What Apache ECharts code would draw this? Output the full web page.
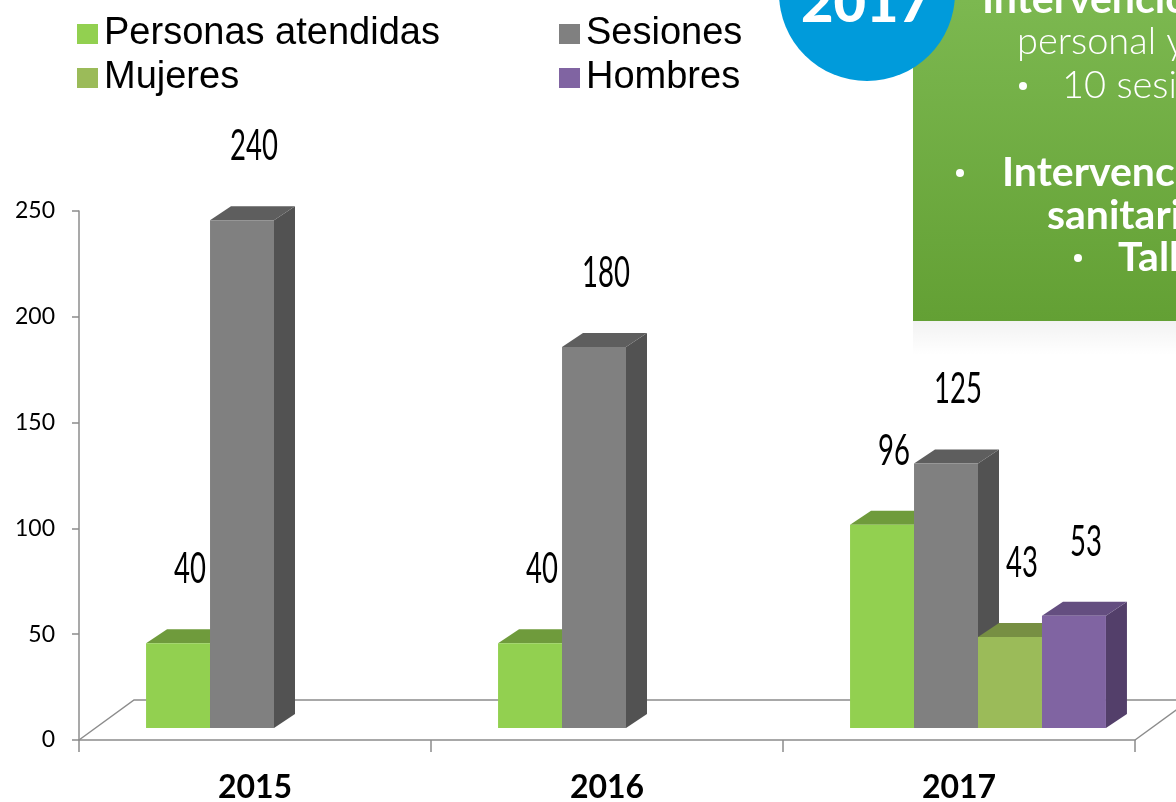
<!DOCTYPE html>
<html><head><meta charset="utf-8">
<script src="https://cdn.jsdelivr.net/npm/echarts@6/dist/echarts.min.js"></script>
<style>html,body{margin:0;padding:0;background:#fff}#c{width:1176px;height:802px}</style>
</head><body><div id="c"></div>
<script>
// ---- data ----
const years = ['2015', '2016', '2017'];
const seriesNames = ['Personas atendidas', 'Sesiones', 'Mujeres', 'Hombres'];
const personas = [40, 40, 96];
const sesiones = [240, 180, 125];
const mujeres = [null, null, 43];
const hombres = [null, null, 53];
const yTicks = [0, 50, 100, 150, 200, 250];

// ---- style ----
const palette = [
  { front: '#92d050', top: '#6f9b3c', side: '#5e8a2f' },
  { front: '#808080', top: '#5e5e5e', side: '#525252' },
  { front: '#9bbb59', top: '#778f43', side: '#66803a' },
  { front: '#8064a2', top: '#644e80', side: '#533f6a' }
];
const DX = 21, DY = -14;          // bar depth
const SHIFT_X = 19, SHIFT_Y = -12; // bar placement inside the floor
const FLOOR_DX = 55, FLOOR_DY = -40;
const AXIS_COLOR = '#8c8c8c';

const chart = echarts.init(document.getElementById('c'), null, { renderer: 'canvas' });

function barRender(si) {
  return function (params, api) {
    const v = api.value(1);
    if (v == null || isNaN(v)) return;
    const base = api.coord([api.value(0), 0]);
    const topP = api.coord([api.value(0), v]);
    const catW = api.size([1, 0])[0];
    const bw = catW * 0.727 / 4;
    const x0 = base[0] - 2 * bw + si * bw + SHIFT_X;
    const x1 = x0 + bw;
    const yb = base[1] + SHIFT_Y;
    const yt = topP[1] + SHIFT_Y;
    const c = palette[si];
    return {
      type: 'group',
      children: [
        { type: 'polygon', shape: { points: [[x1, yt], [x1 + DX, yt + DY], [x1 + DX, yb + DY], [x1, yb]] }, style: { fill: c.side } },
        { type: 'polygon', shape: { points: [[x0, yt], [x1, yt], [x1 + DX, yt + DY], [x0 + DX, yt + DY]] }, style: { fill: c.top } },
        { type: 'rect', shape: { x: x0, y: yt, width: bw, height: yb - yt }, style: { fill: c.front } },
        { type: 'text', z2: 50, x: (x0 + x1) / 2 + 12, y: yt - 74, scaleX: 0.64,
          style: { x: 0, y: 0, text: String(v), align: 'center', verticalAlign: 'middle',
            font: '400 43px Lato, sans-serif', fill: '#000' } }
      ]
    };
  };
}

function floorRender(params, api) {
  const cs = params.coordSys;
  const xl = cs.x, xr = cs.x + cs.width, yf = cs.y + cs.height;
  const st = { stroke: AXIS_COLOR, lineWidth: 1.5, fill: null };
  return {
    type: 'group',
    children: [
      { type: 'polyline', shape: { points: [[xl, yf], [xl + FLOOR_DX, yf + FLOOR_DY], [xr + FLOOR_DX, yf + FLOOR_DY]] }, style: st },
      { type: 'line', shape: { x1: xr, y1: yf, x2: xr + FLOOR_DX, y2: yf + FLOOR_DY }, style: st }
    ]
  };
}

const arrays = [personas, sesiones, mujeres, hombres];
const series = [{
  type: 'custom', name: '_floor', renderItem: floorRender, silent: true, z: 1,
  data: [[years[0], 0]], encode: { x: 0, y: 1 }
}];
arrays.forEach((arr, si) => {
  series.push({
    type: 'custom', name: seriesNames[si], z: 2,
    renderItem: barRender(si),
    itemStyle: { color: palette[si].front },
    encode: { x: 0, y: 1 },
    data: years.map((y, i) => [y, arr[i] == null ? '-' : arr[i]])
  });
});

const legendCommon = {
  orient: 'vertical', icon: 'rect', itemWidth: 21, itemHeight: 20, itemGap: 6,
  textStyle: { fontSize: 38, fontFamily: '"Liberation Sans", Arial, sans-serif', color: '#000', padding: [0, 0, 0, 1] },
  selectedMode: false
};

const graphicEls = [
  { type: 'rect', left: 913, top: 321, z: 100, shape: { width: 263, height: 34 },
    style: { fill: { type: 'linear', x: 0, y: 0, x2: 0, y2: 1, colorStops: [{ offset: 0, color: 'rgba(0,0,0,0.05)' }, { offset: 1, color: 'rgba(0,0,0,0)' }] } } },
  { type: 'rect', left: 913, top: 0, z: 100, shape: { width: 263, height: 321 },
    style: { fill: { type: 'linear', x: 0, y: 0, x2: 0, y2: 1, colorStops: [{ offset: 0, color: '#7cb850' }, { offset: 1, color: '#63a034' }] } } },
  { type: 'circle', z: 101, shape: { cx: 867, cy: -7, r: 88 }, style: { fill: '#009bdb' } },
  { type: 'text', z: 102, style: { x: 866, y: 4, text: '2017', align: 'center', verticalAlign: 'middle', font: '900 56px Lato, sans-serif', fill: '#fff' } }
];
const boxLines = [
  { x: 982, base: 12, text: 'Intervención', w: 'bold', fs: 41 },
  { x: 1017, base: 54, text: 'personal y', w: '300', fs: 38 },
  { x: 1062, base: 98, text: '10 sesiones', w: '300', fs: 38, bullet: 1023 },
  { x: 1002, base: 185, text: 'Intervención', w: 'bold', fs: 41, bullet: 960 },
  { x: 1047, base: 228, text: 'sanitario', w: 'bold', fs: 41 },
  { x: 1118, base: 270, text: 'Talleres', w: 'bold', fs: 41, bullet: 1078 }
];
boxLines.forEach(l => {
  graphicEls.push({ type: 'text', z: 102, style: { x: l.x, y: l.base - 12, text: l.text, align: 'left', verticalAlign: 'middle',
    font: l.w + ' ' + l.fs + 'px Lato, sans-serif', fill: '#fff' } });
  if (l.bullet) graphicEls.push({ type: 'circle', z: 102, shape: { cx: l.bullet, cy: l.base - 12, r: 4 }, style: { fill: '#fff' } });
});

chart.setOption({
  animation: false,
  backgroundColor: '#fff',
  grid: { left: 79, right: 41, top: 211, bottom: 62, containLabel: false, outerBoundsMode: 'none' },
  legend: [
    Object.assign({ left: 72, top: 10, data: [seriesNames[0], seriesNames[2]] }, legendCommon),
    Object.assign({ left: 554, top: 10, data: [seriesNames[1], seriesNames[3]] }, legendCommon)
  ],
  xAxis: {
    type: 'category', data: years, boundaryGap: true,
    axisLine: { lineStyle: { color: AXIS_COLOR, width: 1.5 } },
    axisTick: { show: true, length: 12, lineStyle: { color: AXIS_COLOR, width: 1.5 } },
    axisLabel: { fontFamily: 'Lato, sans-serif', fontWeight: 'bold', fontSize: 32, color: '#000', margin: 32 },
    splitLine: { show: false }
  },
  yAxis: {
    type: 'value', min: yTicks[0], max: yTicks[yTicks.length - 1], interval: yTicks[1] - yTicks[0],
    axisLine: { show: true, lineStyle: { color: AXIS_COLOR, width: 1.5 } },
    axisTick: { show: true, length: 7, lineStyle: { color: AXIS_COLOR, width: 1.5 } },
    axisLabel: { fontFamily: 'Lato, sans-serif', fontSize: 23, color: '#000', margin: 24 },
    splitLine: { show: false }
  },
  series: series,
  graphic: graphicEls
});
</script></body></html>
